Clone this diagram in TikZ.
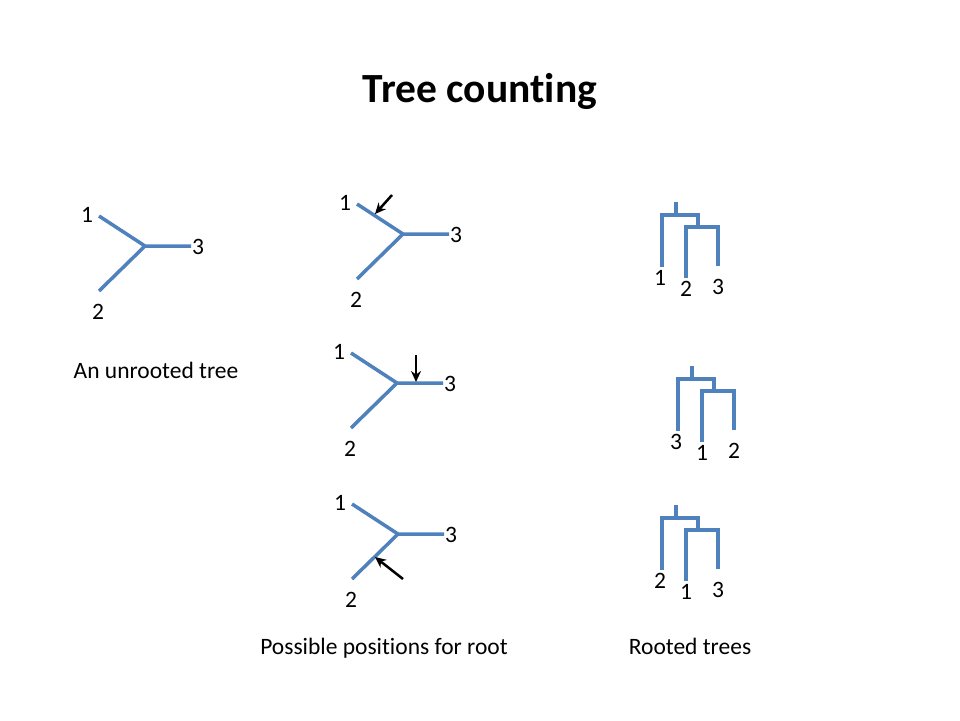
\documentclass[tikz,border=0pt]{standalone}
\usepackage{fontspec}
\setmainfont{Carlito}[Ligatures={NoCommon,NoContextual}]
\usetikzlibrary{arrows.meta}
\definecolor{branch}{RGB}{79,129,189}
\tikzset{
	edge/.style={draw=branch, line width=3.5pt, line join=round},
	leaf/.style={font=\fontsize{23.5}{28}\selectfont, inner sep=0pt},
	caption/.style={font=\fontsize{23.5}{28}\selectfont, inner sep=0pt, anchor=base},
	heading/.style={font=\fontsize{41.5}{48}\selectfont\bfseries, inner sep=0pt, anchor=base},
	pointer/.style={draw=black, line width=2.5pt, -{Stealth[length=11pt,width=10pt]}},
}
\begin{document}
\begin{tikzpicture}[x=1pt,y=-1pt]
			\useasboundingbox (0,0) rectangle (960,720);
			\node[heading] (title) at (480,102) {Tree count\kern0pt ing};
			\foreach \n/\cx/\cy in {u/145/246,a/403/234,b/397/383,c/398/534}{
				\begin{scope}[shift={(\cx,\cy)}]
					\coordinate (\n-c) at (0,0);
					\coordinate (\n-1) at (-46,-30);
					\coordinate (\n-3) at (46,0);
					\coordinate (\n-2) at (-46,45);
					\draw[edge] (\n-1) -- (\n-c) -- (\n-3) (\n-c) -- (\n-2);
					\node[leaf] (\n-l1) at (-58,-31) {1};
					\node[leaf] (\n-l3) at (53,1) {3};
					\node[leaf] (\n-l2) at (-47,66) {2};
				\end{scope}
			}
			\coordinate (a-tail) at (392,195);
			\coordinate (a-head) at (375,214);
			\coordinate (b-tail) at (416,355);
			\coordinate (b-head) at (416,382);
			\coordinate (c-tail) at (403,579);
			\coordinate (c-head) at (375,557);
			\draw[pointer] (a-tail) -- (a-head);
			\draw[pointer] (b-tail) -- (b-head);
			\draw[pointer] (c-tail) -- (c-head);
			\foreach \n/\ox/\oy/\la/\lb/\lc in {p/662/215/1/2/3,q/678/379/3/1/2,r/662/518/2/1/3}{
				\begin{scope}[shift={(\ox,\oy)}]
					\coordinate (\n-top) at (14,-13);
					\coordinate (\n-root) at (14,0);
					\coordinate (\n-a) at (0,0);
					\coordinate (\n-b) at (36,0);
					\coordinate (\n-bb) at (36,12);
					\coordinate (\n-c) at (24,12);
					\coordinate (\n-d) at (56,12);
					\coordinate (\n-x) at (0,52);
					\coordinate (\n-y) at (24,63);
					\coordinate (\n-z) at (56,51);
					\draw[edge, line join=miter] (\n-top) -- (\n-root);
					\draw[edge, line join=miter] (\n-x) -- (\n-a) -- (\n-b) -- (\n-bb);
					\draw[edge, line join=miter] (\n-y) -- (\n-c) -- (\n-d) -- (\n-z);
					\node[leaf] (\n-lx) at (-2,63) {\la};
					\node[leaf] (\n-ly) at (24,74) {\lb};
					\node[leaf] (\n-lz) at (56,72) {\lc};
				\end{scope}
			}
			\node[caption] (unrooted) at (156,378) {An unrooted tree};
			\node[caption] (positions) at (384,654) {Possible posit\kern0pt ions for root};
			\node[caption] (rooted) at (690,654) {Rooted trees};
		\end{tikzpicture}
\end{document}
